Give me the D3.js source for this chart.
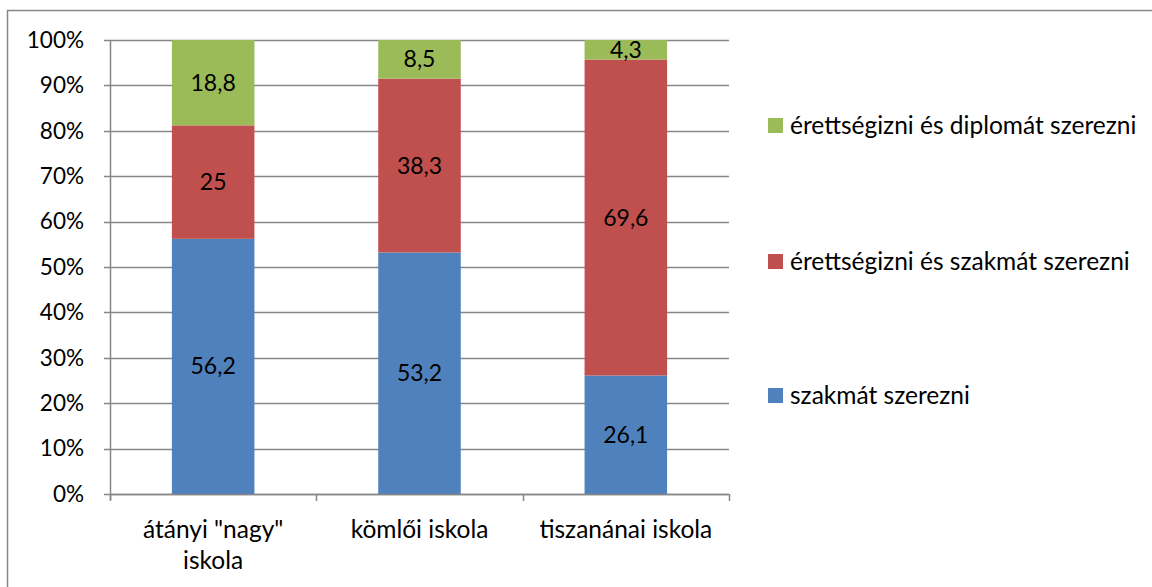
<!DOCTYPE html>
<html>
<head>
<meta charset="utf-8">
<script src="https://cdn.jsdelivr.net/npm/d3@7"></script>
<style>
  body { margin: 0; background: #fff; }
  svg { display: block; font-family: Lato, "Open Sans", sans-serif; }
</style>
</head>
<body>
<svg id="chart" width="1152" height="587"></svg>
<script>
// chart data
const schools = ['átányi "nagy" iskola', 'kömlői iskola', 'tiszanánai iskola'];
const seriesNames = ['szakmát szerezni', 'érettségizni és szakmát szerezni', 'érettségizni és diplomát szerezni'];
const szakmat = [56.2, 53.2, 26.1];
const erettsegiSzakma = [25, 38.3, 69.6];
const erettsegiDiploma = [18.8, 8.5, 4.3];
const yTicks = [0, 10, 20, 30, 40, 50, 60, 70, 80, 90, 100];

const colors = ['#4F81BD', '#C0504D', '#9BBB59'];
const numSize = 22.5;   // numbers (ticks, values)
const textSize = 24.5;  // words (categories, legend)

const svg = d3.select('#chart');

// outer chart border
svg.append('rect')
    .attr('x', 7.5).attr('y', 10.5)
    .attr('width', 1160).attr('height', 600)
    .attr('fill', 'none')
    .attr('stroke', '#868686')
    .attr('stroke-width', 1.5);

const plot = { left: 110, top: 40, right: 729, bottom: 494 };

const x = d3.scaleBand()
    .domain(schools)
    .range([plot.left, plot.right])
    .paddingInner(0.6)
    .paddingOuter(0.3);

const y = d3.scaleLinear()
    .domain([0, 100])
    .range([plot.bottom, plot.top]);

// rows for stacking
const rows = schools.map((s, i) => ({
    school: s,
    [seriesNames[0]]: szakmat[i],
    [seriesNames[1]]: erettsegiSzakma[i],
    [seriesNames[2]]: erettsegiDiploma[i]
}));
const stacked = d3.stack().keys(seriesNames)(rows);

// gridlines
svg.append('g')
    .selectAll('line')
    .data(yTicks)
    .join('line')
    .attr('x1', plot.left - 6)
    .attr('x2', plot.right)
    .attr('y1', d => Math.round(y(d)) + 0.5)
    .attr('y2', d => Math.round(y(d)) + 0.5)
    .attr('stroke', '#868686')
    .attr('stroke-width', 1.5);

// y tick labels
svg.append('g')
    .selectAll('text')
    .data(yTicks)
    .join('text')
    .attr('x', plot.left - 26)
    .attr('y', d => y(d))
    .attr('dy', '0.35em')
    .attr('text-anchor', 'end')
    .attr('font-size', numSize)
    .attr('fill', '#000')
    .text(d => d + '%');

// bars
const layers = svg.append('g')
    .selectAll('g')
    .data(stacked)
    .join('g')
    .attr('fill', (d, i) => colors[i]);

layers.selectAll('rect')
    .data(d => d)
    .join('rect')
    .attr('x', d => x(d.data.school))
    .attr('width', x.bandwidth())
    .attr('y', d => y(d[1]))
    .attr('height', d => y(d[0]) - y(d[1]));

// value labels
layers.selectAll('text')
    .data(d => d.map(v => ({ v, key: d.key })))
    .join('text')
    .attr('x', d => x(d.v.data.school) + x.bandwidth() / 2)
    .attr('y', d => y((d.v[0] + d.v[1]) / 2))
    .attr('dy', '0.35em')
    .attr('text-anchor', 'middle')
    .attr('font-size', 23)
    .attr('fill', '#000')
    .text(d => String(d.v.data[d.key]).replace('.', ','));

// y axis line
svg.append('line')
    .attr('x1', plot.left + 0.5).attr('x2', plot.left + 0.5)
    .attr('y1', plot.top).attr('y2', plot.bottom + 6)
    .attr('stroke', '#868686')
    .attr('stroke-width', 1.5);

// x axis line and ticks at category edges
const step = x.step();
const edges = d3.range(schools.length + 1).map(i => plot.left + i * step);
svg.append('line')
    .attr('x1', plot.left).attr('x2', plot.right)
    .attr('y1', plot.bottom + 0.5).attr('y2', plot.bottom + 0.5)
    .attr('stroke', '#868686')
    .attr('stroke-width', 1.5);
svg.append('g')
    .selectAll('line')
    .data(edges)
    .join('line')
    .attr('x1', d => Math.round(d) + 0.5)
    .attr('x2', d => Math.round(d) + 0.5)
    .attr('y1', plot.bottom)
    .attr('y2', plot.bottom + 7)
    .attr('stroke', '#868686')
    .attr('stroke-width', 1.5);

// category labels, wrapped like the original
const wrapLines = { 'átányi "nagy" iskola': ['átányi "nagy"', 'iskola'] };
svg.append('g')
    .selectAll('text')
    .data(schools)
    .join('text')
    .attr('x', d => x(d) + x.bandwidth() / 2)
    .attr('y', 538)
    .attr('text-anchor', 'middle')
    .attr('font-size', textSize)
    .attr('fill', '#000')
    .each(function (d) {
        const lines = wrapLines[d] || [d];
        d3.select(this).selectAll('tspan')
            .data(lines)
            .join('tspan')
            .attr('x', x(d) + x.bandwidth() / 2)
            .attr('dy', (l, i) => i === 0 ? 0 : 31)
            .text(l => l);
    });

// legend (top to bottom in reverse series order)
const legendY = [125, 261, 395];
const legend = svg.append('g')
    .selectAll('g')
    .data(seriesNames.slice().reverse())
    .join('g')
    .attr('transform', (d, i) => `translate(768, ${legendY[i]})`);

legend.append('rect')
    .attr('x', 0).attr('y', -7)
    .attr('width', 15).attr('height', 15)
    .attr('fill', d => colors[seriesNames.indexOf(d)]);

legend.append('text')
    .attr('x', 22)
    .attr('y', 0)
    .attr('dy', '0.35em')
    .attr('font-size', textSize)
    .attr('fill', '#000')
    .text(d => d);
</script>
</body>
</html>
